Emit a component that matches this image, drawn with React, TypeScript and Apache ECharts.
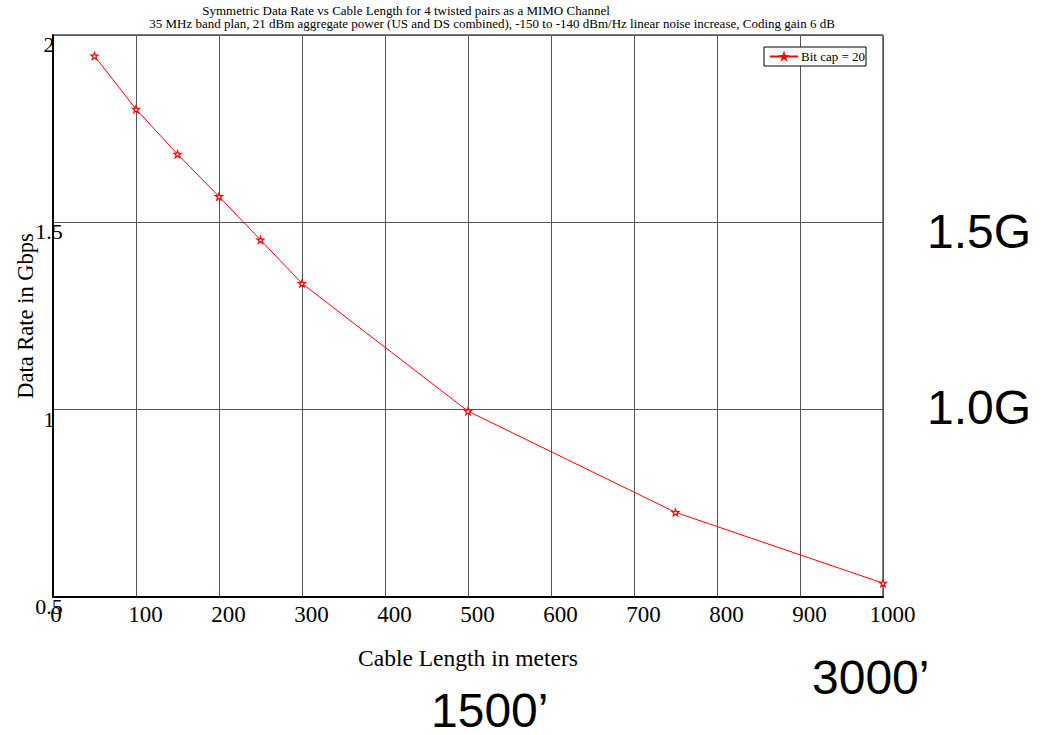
import React, { useEffect, useRef } from "react";
import * as echarts from "echarts";

const lengths = [50, 100, 150, 200, 250, 300, 500, 750, 1000];
const rates = [1.944, 1.802, 1.682, 1.569, 1.453, 1.337, 0.996, 0.726, 0.537];
const seriesName = "Bit cap = 20";
const titleLine1 = "Symmetric Data Rate vs Cable Length for 4 twisted pairs as a MIMO Channel";
const titleLine2 = "35 MHz band plan, 21 dBm aggregate power (US and DS combined), -150 to -140 dBm/Hz linear noise increase, Coding gain 6 dB";
const xName = "Cable Length in meters";
const yName = "Data Rate in Gbps";
const annotations = [
  { text: "1.5G", x: 927, y: 231 },
  { text: "1.0G", x: 927, y: 407 },
  { text: "3000\u2019", x: 812, y: 677 },
  { text: "1500\u2019", x: 431, y: 710 },
];

const STAR = "path://M0,-10 L2.35,-3.24 L9.51,-3.09 L3.8,1.24 L5.88,8.09 L0,4 L-5.88,8.09 L-3.8,1.24 L-9.51,-3.09 L-2.35,-3.24 Z";
const SERIF = "Liberation Serif";

export default function App() {
  const ref = useRef<HTMLDivElement>(null);
  useEffect(() => {
    if (!ref.current) return;
    const chart = echarts.init(ref.current, null, { renderer: "svg" });
    chart.setOption({
      animation: false,
      backgroundColor: "#fff",
      grid: {
        left: 53,
        right: 161,
        top: 35,
        bottom: 138,
        show: true,
        borderColor: "#000",
        borderWidth: 1,
        containLabel: false,
        outerBoundsMode: "none",
      },
      legend: {
        left: 764,
        top: 47,
        padding: [3, 1, 3, 5],
        itemWidth: 28,
        itemHeight: 7,
        itemGap: 0,
        borderColor: "#000",
        borderWidth: 1,
        backgroundColor: "#fff",
        textStyle: { fontFamily: SERIF, fontSize: 13, color: "#000", padding: [0, 0, 0, -2] },
        data: [seriesName],
      },
      xAxis: {
        type: "value",
        min: 0,
        max: 1000,
        interval: 100,
        name: xName,
        nameLocation: "middle",
        nameGap: 49,
        nameMoveOverlap: false,
        nameTextStyle: { fontFamily: SERIF, fontSize: 23.5, color: "#000" },
        axisLine: { show: true, lineStyle: { color: "#000", width: 2 } },
        axisTick: { show: false },
        splitLine: { show: true, lineStyle: { color: "#555", width: 1 } },
        axisLabel: {
          margin: 6,
          fontFamily: SERIF,
          fontSize: 23,
          color: "#000",
          formatter: (v: number) => (v === 0 ? "{z|0}" : "{n|" + v + "}"),
          rich: {
            z: { fontFamily: SERIF, fontSize: 23, color: "#000", padding: [0, 0, 0, 6] },
            n: { fontFamily: SERIF, fontSize: 23, color: "#000", padding: [0, 0, 0, 19] },
          },
        },
      },
      yAxis: {
        type: "value",
        min: 0.5,
        max: 2,
        interval: 0.5,
        name: yName,
        nameLocation: "middle",
        nameGap: 16,
        nameMoveOverlap: false,
        nameRotate: 90,
        nameTextStyle: { fontFamily: SERIF, fontSize: 22.5, color: "#000" },
        axisLine: { show: true, lineStyle: { color: "#000", width: 2 } },
        axisTick: { show: false },
        splitLine: { show: true, lineStyle: { color: "#555", width: 1 } },
        axisLabel: {
          margin: 4,
          align: "center",
          verticalAlign: "top",
          lineHeight: 19,
          fontFamily: SERIF,
          fontSize: 22,
          color: "#000",
        },
      },
      series: [
        {
          name: seriesName,
          type: "line",
          data: lengths.map((l, i) => [l, rates[i]]),
          symbol: STAR,
          symbolSize: 7,
          showAllSymbol: true,
          lineStyle: { color: "#ff0000", width: 1 },
          itemStyle: { color: "#fff", borderColor: "#ff0000", borderWidth: 1.2 },
          emphasis: { disabled: true },
        },
      ],
      graphic: [
        {
          type: "text",
          x: 406,
          y: 10,
          style: { text: titleLine1, fill: "#000", font: `13px "${SERIF}"`, align: "center", verticalAlign: "middle" },
        },
        {
          type: "text",
          x: 492,
          y: 23,
          style: { text: titleLine2, fill: "#000", font: `13px "${SERIF}"`, align: "center", verticalAlign: "middle" },
        },
        ...annotations.map((a) => ({
          type: "text",
          x: a.x,
          y: a.y,
          style: { text: a.text, fill: "#000", font: `48px "Liberation Sans"`, align: "left", verticalAlign: "middle" },
        })),
      ],
    });
    return () => chart.dispose();
  }, []);
  return <div ref={ref} style={{ position: "fixed", left: 0, top: 0, width: 1044, height: 735 }} />;
}
